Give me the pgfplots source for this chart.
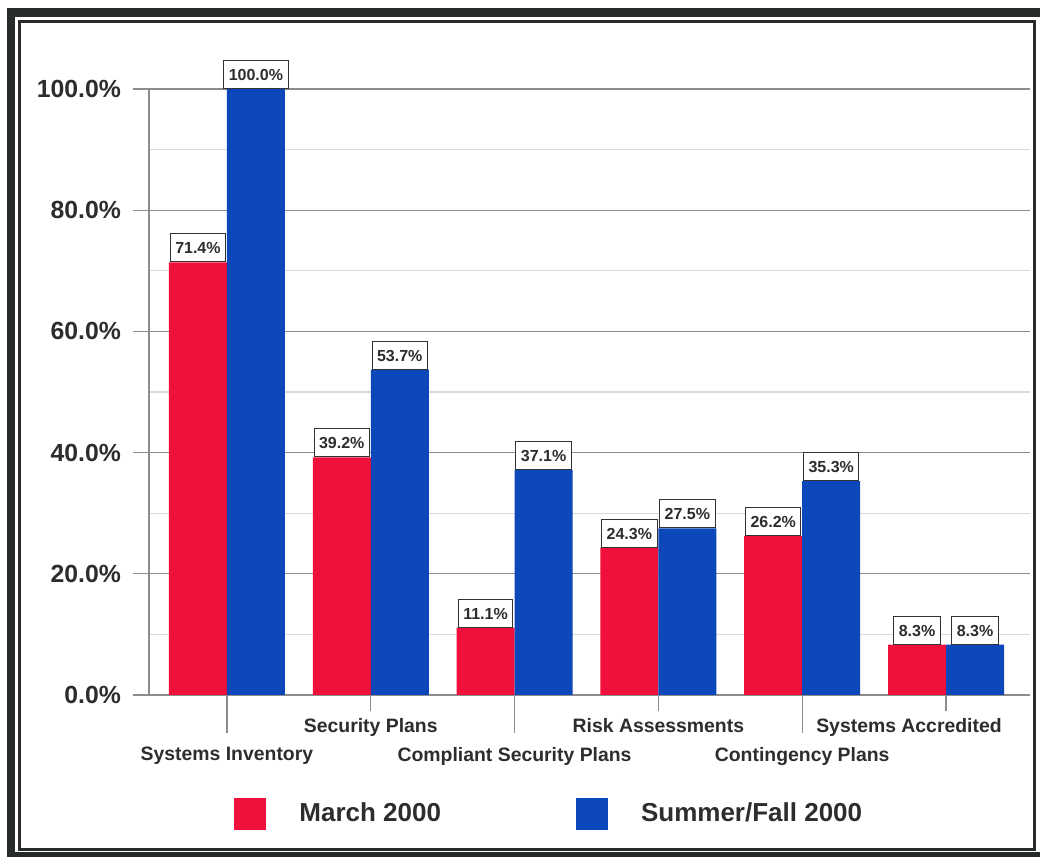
\documentclass[border=0pt]{standalone}
\usepackage{fontspec}
\setmainfont{Liberation Sans}
\usepackage{pgfplots}
\pgfplotsset{compat=1.18}
\definecolor{barred}{RGB}{240,16,60}
\definecolor{barblue}{RGB}{12,72,186}
\definecolor{txt}{RGB}{45,45,45}
\definecolor{framec}{RGB}{40,44,40}
\begin{document}
\begin{tikzpicture}[x=1pt,y=1pt]
\useasboundingbox (-74.5,-81) rectangle (445.5,347.5);
\clip (-74.5,-81) rectangle (445.5,347.5);
\fill[white] (-74.5,-81) rectangle (445.5,347.5);
\begin{axis}[
  at={(0,0)}, anchor=south west,
  scale only axis, width=440.5pt, height=303pt,
  xmin=-0.542, xmax=5.584, ymin=0, ymax=100,
  ybar=0pt, bar width=29pt,
  axis x line*=bottom, axis y line*=left,
  axis line style={black!45, line width=0.6pt, -},
  ymajorgrids, yminorgrids, minor y tick num=1,
  major grid style={black!45, line width=0.6pt},
  minor grid style={black!15, line width=0.6pt},
  tick style={black!45, line width=0.6pt},
  tick align=outside, major tick length=8pt, minor tick length=0pt,
  ytick={0,20,...,100},
  yticklabel={\pgfmathprintnumber[fixed,fixed zerofill,precision=1,assume math mode=true]{\tick}\%},
  y tick label style={font=\fontsize{12.4}{14}\selectfont\bfseries, text=txt, xshift=-2.5pt},
  xtick={1,3,5},
  xticklabels={Security Plans, Risk Assessments, \hspace*{-37pt}Systems Accredited},
  x tick label style={font=\fontsize{9.7}{11}\selectfont\bfseries, text=txt},
  extra x ticks={0,2,4},
  extra x tick labels={Systems Inventory, Compliant Security Plans, Contingency Plans},
  extra x tick style={major tick length=19pt, x tick label style={yshift=-3.5pt}},
  nodes near coords={\pgfmathprintnumber[fixed,fixed zerofill,precision=1,assume math mode=true]{\pgfplotspointmeta}\%},
  every node near coord/.append style={draw=black!80, fill=white, line width=0.5pt,
     font=\fontsize{8}{9}\selectfont\bfseries, text=txt, inner xsep=2.5pt, inner ysep=4pt,
     text height=6pt, text depth=0pt, anchor=south, yshift=0pt},
  legend style={at={(0.4555,-0.196)}, anchor=center, draw=none, fill=none,
     legend columns=2, font=\fontsize{13}{15}\selectfont\bfseries, text=txt},
]
\addplot[fill=barred, draw=none, legend image code/.code={\fill[barred] (0pt,-8pt) rectangle (16pt,8pt);}]
  coordinates {(0,71.4) (1,39.2) (2,11.1) (3,24.3) (4,26.2) (5,8.3)};
\addlegendentry{\hspace*{14.5pt}March 2000\hspace*{65.5pt}}
\addplot[fill=barblue, draw=none, legend image code/.code={\fill[barblue] (0pt,-8pt) rectangle (16pt,8pt);}]
  coordinates {(0,100.0) (1,53.7) (2,37.1) (3,27.5) (4,35.3) (5,8.3)};
\addlegendentry{\hspace*{14.5pt}Summer/Fall 2000}
\end{axis}
\draw[framec, line width=4.25pt] (-69,341.25) -- (460,341.25);
\draw[framec, line width=4.25pt] (-69,343.375) -- (-69,-80.5) -- (460,-80.5);
\draw[framec, line width=1.5pt] (-64.75,336.75) rectangle (442.5,-77);
\end{tikzpicture}
\end{document}
